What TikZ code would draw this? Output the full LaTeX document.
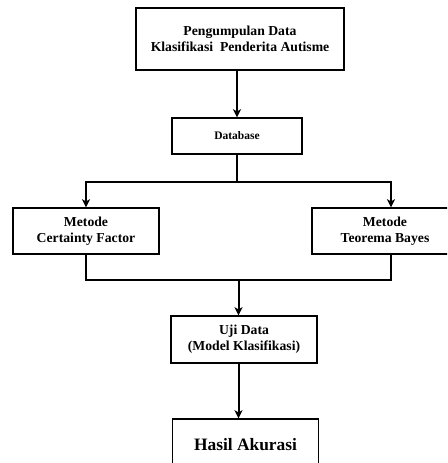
\documentclass[tikz,border=0pt]{standalone}
\usepackage{fontspec}
\setmainfont{Liberation Serif}
\usetikzlibrary{arrows.meta, positioning, calc}

\tikzset{
  kotak/.style={draw, line width=1.4pt, fill=white, align=center, inner sep=0pt,
    font=\bfseries\fontsize{13.7}{16}\selectfont},
  panah/.style={line width=2pt, -{Stealth[length=8pt,width=8pt,inset=2pt]}},
  garis/.style={line width=2pt},
}

\begin{document}
\begin{tikzpicture}[x=1pt,y=-1pt]
    \useasboundingbox (0,0) rectangle (447,463);
    \clip (0,0) rectangle (447,463);
    % kotak-kotak
    \node[kotak, minimum width=208pt, minimum height=62pt] (kumpul) at (240,39)
      {Pengumpulan Data\\Klasifikasi~ Penderita Autisme};
    \node[kotak, minimum width=130pt, minimum height=36pt,
      font=\bfseries\fontsize{11.5}{13}\selectfont] (db) at (237,136) {Database};
    \node[kotak, minimum width=146pt, minimum height=46pt] (cf) at (86,231)
      {Metode\\Certainty Factor};
    \node[kotak, minimum width=146pt, minimum height=46pt] (bayes) at (385,231)
      {Metode\\Teorema Bayes};
    \node[kotak, minimum width=146pt, minimum height=47pt] (uji) at (244,339.5)
      {Uji Data\\(Model Klasifikasi)};
    \node[kotak, minimum width=146pt, minimum height=52pt,
      font=\bfseries\fontsize{17.4}{20}\selectfont] (hasil) at (245.5,445) {Hasil Akurasi};
    % titik cabang
    \coordinate (cabang) at (237,182);
    \coordinate (gabung) at (238.5,280);
    % garis penghubung
    \draw[panah] (kumpul.south -| db) -- (db);
    \draw[garis] (db) -- (cabang);
    \draw[panah] (cabang) -| (cf.north);
    \draw[panah] (cabang) -| ([xshift=6pt]bayes.north);
    \draw[garis] (cf) |- (gabung) -| ([xshift=6pt]bayes.south);
    \draw[panah] (gabung) -- (uji.north -| gabung);
    \draw[panah] (uji.south -| gabung) -- (hasil.north -| gabung);
\end{tikzpicture}
\end{document}
